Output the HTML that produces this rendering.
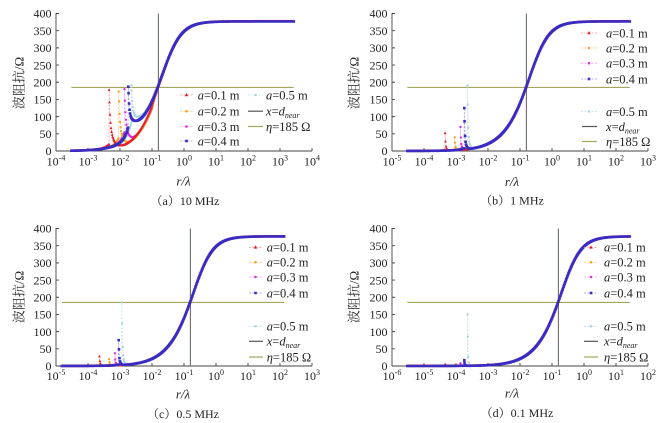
<!DOCTYPE html>
<html><head><meta charset="utf-8">
<style>
html,body{margin:0;padding:0;background:#fff;}
svg{display:block;}
text{font-family:"Liberation Serif","Noto Serif CJK SC",serif;fill:#222;}
.yl{font-size:12px;text-anchor:end;}
.xl{font-size:12px;text-anchor:middle;}
.lg{font-size:12.5px;}
.cap{font-size:12px;text-anchor:middle;}
.yt{font-size:13px;text-anchor:middle;}
.xt{font-size:13px;font-style:italic;text-anchor:middle;}
</style></head>
<body>
<svg id="s" width="660" height="423" viewBox="0 0 660 423" xmlns="http://www.w3.org/2000/svg">
<rect width="660" height="423" fill="#fff"/>
<g id="plots"></g>

<g class="yl">
<text x="51.5" y="155.2">0</text><text x="51.5" y="138">50</text><text x="51.5" y="120.8">100</text><text x="51.5" y="103.6">150</text><text x="51.5" y="86.5">200</text><text x="51.5" y="69.3">250</text><text x="51.5" y="52.1">300</text><text x="51.5" y="34.9">350</text><text x="51.5" y="17.7">400</text>
</g>
<g class="yl">
<text x="387.5" y="155.2">0</text><text x="387.5" y="138">50</text><text x="387.5" y="120.8">100</text><text x="387.5" y="103.6">150</text><text x="387.5" y="86.5">200</text><text x="387.5" y="69.3">250</text><text x="387.5" y="52.1">300</text><text x="387.5" y="34.9">350</text><text x="387.5" y="17.7">400</text>
</g>
<g class="yl">
<text x="51.5" y="370.2">0</text><text x="51.5" y="353">50</text><text x="51.5" y="335.8">100</text><text x="51.5" y="318.6">150</text><text x="51.5" y="301.5">200</text><text x="51.5" y="284.3">250</text><text x="51.5" y="267.1">300</text><text x="51.5" y="249.9">350</text><text x="51.5" y="232.7">400</text>
</g>
<g class="yl">
<text x="387.5" y="370.2">0</text><text x="387.5" y="353">50</text><text x="387.5" y="335.8">100</text><text x="387.5" y="318.6">150</text><text x="387.5" y="301.5">200</text><text x="387.5" y="284.3">250</text><text x="387.5" y="267.1">300</text><text x="387.5" y="249.9">350</text><text x="387.5" y="232.7">400</text>
</g>

<g class="xl">
<text x="56" y="165.5">10<tspan font-size="8" dy="-5">-4</tspan></text>
<text x="88" y="165.5">10<tspan font-size="8" dy="-5">-3</tspan></text>
<text x="120" y="165.5">10<tspan font-size="8" dy="-5">-2</tspan></text>
<text x="152" y="165.5">10<tspan font-size="8" dy="-5">-1</tspan></text>
<text x="184" y="165.5">10<tspan font-size="8" dy="-5">0</tspan></text>
<text x="216" y="165.5">10<tspan font-size="8" dy="-5">1</tspan></text>
<text x="248" y="165.5">10<tspan font-size="8" dy="-5">2</tspan></text>
<text x="280" y="165.5">10<tspan font-size="8" dy="-5">3</tspan></text>
<text x="312" y="165.5">10<tspan font-size="8" dy="-5">4</tspan></text>
</g>
<g class="xl">
<text x="392" y="165.5">10<tspan font-size="8" dy="-5">-5</tspan></text>
<text x="424" y="165.5">10<tspan font-size="8" dy="-5">-4</tspan></text>
<text x="456" y="165.5">10<tspan font-size="8" dy="-5">-3</tspan></text>
<text x="488" y="165.5">10<tspan font-size="8" dy="-5">-2</tspan></text>
<text x="520" y="165.5">10<tspan font-size="8" dy="-5">-1</tspan></text>
<text x="552" y="165.5">10<tspan font-size="8" dy="-5">0</tspan></text>
<text x="584" y="165.5">10<tspan font-size="8" dy="-5">1</tspan></text>
<text x="616" y="165.5">10<tspan font-size="8" dy="-5">2</tspan></text>
<text x="648" y="165.5">10<tspan font-size="8" dy="-5">3</tspan></text>
</g>
<g class="xl">
<text x="56" y="380">10<tspan font-size="8" dy="-5">-5</tspan></text>
<text x="88" y="380">10<tspan font-size="8" dy="-5">-4</tspan></text>
<text x="120" y="380">10<tspan font-size="8" dy="-5">-3</tspan></text>
<text x="152" y="380">10<tspan font-size="8" dy="-5">-2</tspan></text>
<text x="184" y="380">10<tspan font-size="8" dy="-5">-1</tspan></text>
<text x="216" y="380">10<tspan font-size="8" dy="-5">0</tspan></text>
<text x="248" y="380">10<tspan font-size="8" dy="-5">1</tspan></text>
<text x="280" y="380">10<tspan font-size="8" dy="-5">2</tspan></text>
<text x="312" y="380">10<tspan font-size="8" dy="-5">3</tspan></text>
</g>
<g class="xl">
<text x="392" y="380">10<tspan font-size="8" dy="-5">-6</tspan></text>
<text x="424" y="380">10<tspan font-size="8" dy="-5">-5</tspan></text>
<text x="456" y="380">10<tspan font-size="8" dy="-5">-4</tspan></text>
<text x="488" y="380">10<tspan font-size="8" dy="-5">-3</tspan></text>
<text x="520" y="380">10<tspan font-size="8" dy="-5">-2</tspan></text>
<text x="552" y="380">10<tspan font-size="8" dy="-5">-1</tspan></text>
<text x="584" y="380">10<tspan font-size="8" dy="-5">0</tspan></text>
<text x="616" y="380">10<tspan font-size="8" dy="-5">1</tspan></text>
<text x="648" y="380">10<tspan font-size="8" dy="-5">2</tspan></text>
</g>

<text class="yt" transform="translate(23.5,83) rotate(-90)">波阻抗/Ω</text>
<text class="yt" transform="translate(358.5,83) rotate(-90)">波阻抗/Ω</text>
<text class="yt" transform="translate(23.5,297) rotate(-90)">波阻抗/Ω</text>
<text class="yt" transform="translate(358.5,297) rotate(-90)">波阻抗/Ω</text>

<text class="xt" x="183.5" y="185.5">r/λ</text>
<text class="xt" x="512" y="186">r/λ</text>
<text class="xt" x="183" y="398.5">r/λ</text>
<text class="xt" x="512" y="397.5">r/λ</text>

<text class="cap" x="185" y="205">（a）10 MHz</text>
<text class="cap" x="512" y="204.5">（b）1 MHz</text>
<text class="cap" x="183" y="418">（c）0.5 MHz</text>
<text class="cap" x="517" y="417">（d）0.1 MHz</text>

<g class="lg">
<text x="197.7" y="99.3"><tspan font-style="italic">a</tspan>=0.1 m</text>
<text x="197.7" y="115.5"><tspan font-style="italic">a</tspan>=0.2 m</text>
<text x="197.7" y="130.8"><tspan font-style="italic">a</tspan>=0.3 m</text>
<text x="197.7" y="145.3"><tspan font-style="italic">a</tspan>=0.4 m</text>
<text x="266" y="99.3"><tspan font-style="italic">a</tspan>=0.5 m</text>
<text x="266" y="115.5"><tspan font-style="italic">x</tspan>=<tspan font-style="italic">d</tspan><tspan font-size="8" font-style="italic" dy="2.5">near</tspan></text>
<text x="266" y="130.8"><tspan font-style="italic">η</tspan>=185 Ω</text>
</g>
<g class="lg">
<text x="606" y="37.3"><tspan font-style="italic">a</tspan>=0.1 m</text>
<text x="606" y="52.3"><tspan font-style="italic">a</tspan>=0.2 m</text>
<text x="606" y="67.5"><tspan font-style="italic">a</tspan>=0.3 m</text>
<text x="606" y="83.3"><tspan font-style="italic">a</tspan>=0.4 m</text>
<text x="606" y="115.8"><tspan font-style="italic">a</tspan>=0.5 m</text>
<text x="606" y="130.8"><tspan font-style="italic">x</tspan>=<tspan font-style="italic">d</tspan><tspan font-size="8" font-style="italic" dy="2.5">near</tspan></text>
<text x="606" y="145.8"><tspan font-style="italic">η</tspan>=185 Ω</text>
</g>
<g class="lg">
<text x="266.7" y="251.6"><tspan font-style="italic">a</tspan>=0.1 m</text>
<text x="266.7" y="266.6"><tspan font-style="italic">a</tspan>=0.2 m</text>
<text x="266.7" y="281.3"><tspan font-style="italic">a</tspan>=0.3 m</text>
<text x="266.7" y="297.3"><tspan font-style="italic">a</tspan>=0.4 m</text>
<text x="266.7" y="330.6"><tspan font-style="italic">a</tspan>=0.5 m</text>
<text x="266.7" y="345.6"><tspan font-style="italic">x</tspan>=<tspan font-style="italic">d</tspan><tspan font-size="8" font-style="italic" dy="2.5">near</tspan></text>
<text x="266.7" y="361.3"><tspan font-style="italic">η</tspan>=185 Ω</text>
</g>
<g class="lg">
<text x="604" y="251.6"><tspan font-style="italic">a</tspan>=0.1 m</text>
<text x="604" y="266.6"><tspan font-style="italic">a</tspan>=0.2 m</text>
<text x="604" y="281.3"><tspan font-style="italic">a</tspan>=0.3 m</text>
<text x="604" y="297.3"><tspan font-style="italic">a</tspan>=0.4 m</text>
<text x="604" y="330.6"><tspan font-style="italic">a</tspan>=0.5 m</text>
<text x="604" y="345.6"><tspan font-style="italic">x</tspan>=<tspan font-style="italic">d</tspan><tspan font-size="8" font-style="italic" dy="2.5">near</tspan></text>
<text x="604" y="361.3"><tspan font-style="italic">η</tspan>=185 Ω</text>
</g>
</svg>

<script>
(function(){
var NS="http://www.w3.org/2000/svg";
var G=document.getElementById("plots");
function el(tag,a){var e=document.createElementNS(NS,tag);for(var k in a)e.setAttribute(k,a[k]);G.appendChild(e);return e;}
function main(L){var u=2*Math.PI*Math.pow(10,L);var lu=Math.log(u);var p=1+0.4/(1+Math.exp(-lu));var h=Math.exp(p*lu);return 377*h/(1+h);}
var D=32, K=137.5/400;
var plots=[
 {x0:56,yb:151,yt:13.5,Lmin:-4,d0:-3.52,d1:3.43,s:0,P:[178,173,180,187,192],
  C:[0.45,0.35,0.25,0,0],W:[0.12,0.1,0.1,0.3,0.32],F:0.03},
 {x0:392,yb:151,yt:13.5,Lmin:-5,d0:-4.52,d1:2.43,s:-1,P:[52,40,70,125,190],
  C:[0,0,0,0,0],W:[0.03,0.03,0.035,0.04,0.04],F:0.012},
 {x0:56,yb:366,yt:228.5,Lmin:-5,d0:-4.82,d1:2.13,s:-1.3,P:[28,20,37,75,185],
  C:[0,0,0,0,0],W:[0.03,0.03,0.03,0.035,0.035],F:0.01},
 {x0:392,yb:366,yt:228.5,Lmin:-6,d0:-5.52,d1:1.43,s:-2,P:[5,3,8,17,150],
  C:[0,0,0,0,0],W:[0.02,0.02,0.02,0.02,0.02],F:0.008}
];
var OFF=[-2.34,-2.04,-1.86,-1.74,-1.64];
var FILL=["#e3202a","#f6a21e","#dd28dd","#3a2bc2","#a6d4e4"];
var DASH=["#f29a9a","#f7c98a","#f0a0f0","#9a9ae6","#bfe2ee"];
var SHAPE=["tri","dot","dot","sq","dot"];
function mk(shape,x,y,small){
  x=+x.toFixed(2);y=+y.toFixed(2);
  if(shape=="tri"){var s=small?0.8:1;return "M"+x+" "+(y-2.0*s).toFixed(2)+"L"+(x+1.8*s).toFixed(2)+" "+(y+1.3*s).toFixed(2)+"L"+(x-1.8*s).toFixed(2)+" "+(y+1.3*s).toFixed(2)+"Z";}
  if(shape=="sq"){return "M"+(x-1.3)+" "+(y-1.3)+"h2.6v2.6h-2.6Z";}
  return "M"+x+" "+y+"h0.01";
}
function drawMarkers(shape,color,d,w){
  if(shape=="dot"){el("path",{d:d,fill:"none",stroke:color,"stroke-width":w||"2.5","stroke-linecap":"round"});}
  else{el("path",{d:d,fill:color,stroke:"none"});}
}
function sv(p,L,Li,Pi,i){
  if(L<Li-1e-9){return main(L)*(1+1.0*Math.exp(-(Li-L)/0.15));}
  var dL=L-Li, m=main(L);
  var q=dL/0.3;
  var damp=(L<-1.0)?1:Math.exp(-(L+1.0)/0.06);
  var base=m*(1-p.C[i]*q*Math.exp(1-q)*damp);
  var E=Pi-main(Li);
  return base+E*(0.55*Math.exp(-dL/p.F)+0.45*Math.exp(-dL/p.W[i]));
}
plots.forEach(function(p){
  var X=function(L){return p.x0+(L-p.Lmin)*D;};
  var Y=function(v){return p.yb-v*K;};
  el("line",{x1:p.x0,y1:p.yt-0.5,x2:p.x0,y2:p.yb,stroke:"#444","stroke-width":"0.9"});
  el("line",{x1:p.x0,y1:p.yb,x2:p.x0+8*D,y2:p.yb,stroke:"#444","stroke-width":"0.9"});
  var t="";
  for(var j=1;j<=8;j++){var y=p.yb-j*50*K;t+="M"+p.x0+" "+y.toFixed(2)+"h3";}
  for(var k=1;k<=8;k++){var x=p.x0+k*D;t+="M"+x+" "+p.yb+"v-3";}
  el("path",{d:t,stroke:"#444","stroke-width":"0.9",fill:"none"});
  el("line",{x1:X(p.d0),y1:Y(185),x2:X(p.d1),y2:Y(185),stroke:"#a3a65e","stroke-width":"1.1"});
  var xv=X(-0.8);
  el("line",{x1:xv,y1:p.yt,x2:xv,y2:p.yb,stroke:"#76696a","stroke-width":"1.1"});
  var N=420;
  var order=[4,2,1,0,3];
  var series=[];
  for(var i=0;i<5;i++){
    var Li=p.s+OFF[i], Pi=p.P[i];
    var pts=[];
    var ins=false;
    for(var n=0;n<=N;n++){
      var L=p.d0+(p.d1-p.d0)*n/N;
      if(!ins && L>Li){pts.push([Li,Pi]);ins=true;}
      pts.push([L,sv(p,L,Li,Pi,i)]);
    }
    series[i]=pts;
  }
  order.forEach(function(i){
    var pts=series[i], d="";
    pts.forEach(function(q,n){d+=(n?"L":"M")+X(q[0]).toFixed(2)+" "+Y(q[1]).toFixed(2);});
    el("path",{d:d,fill:"none",stroke:DASH[i],"stroke-width":"0.7","stroke-dasharray":"2,1.5"});
  });
  order.forEach(function(i){
    var pts=series[i], d="";
    pts.forEach(function(q){d+=mk(SHAPE[i],X(q[0]),Y(q[1]),true);});
    drawMarkers(SHAPE[i],FILL[i],d,"2.3");
  });
});
function legItem(x1,x2,y,i){
  el("line",{x1:x1,y1:y,x2:x2,y2:y,stroke:DASH[i],"stroke-width":"0.8","stroke-dasharray":"2,1.5"});
  drawMarkers(SHAPE[i],FILL[i],mk(SHAPE[i],(x1+x2)/2,y,false),"2.5");
}
function legLine(x1,x2,y,c){el("line",{x1:x1,y1:y,x2:x2,y2:y,stroke:c,"stroke-width":"1.2"});}
var ra=[95,111.2,126.5,141];
for(var i=0;i<4;i++)legItem(180,193,ra[i],i);
legItem(248,263,95,4);
legLine(248,263,111.2,"#555");
legLine(248,263,126.5,"#a3a65e");
var rb=[33,48,63.2,79,111.5,126.5,141.5];
for(var i=0;i<5;i++)legItem(581,597,rb[i],i);
legLine(582,597,rb[5],"#555");legLine(582,597,rb[6],"#a3a65e");
var rc=[247.3,262.3,277,293,326.3,341.3,357];
for(var i=0;i<5;i++)legItem(249,262,rc[i],i);
legLine(249,263,rc[5],"#555");legLine(249,263,rc[6],"#a3a65e");
for(var i=0;i<5;i++)legItem(584,598,rc[i],i);
legLine(584,598,rc[5],"#555");legLine(584,598,rc[6],"#a3a65e");
})();
</script>
</body></html>
